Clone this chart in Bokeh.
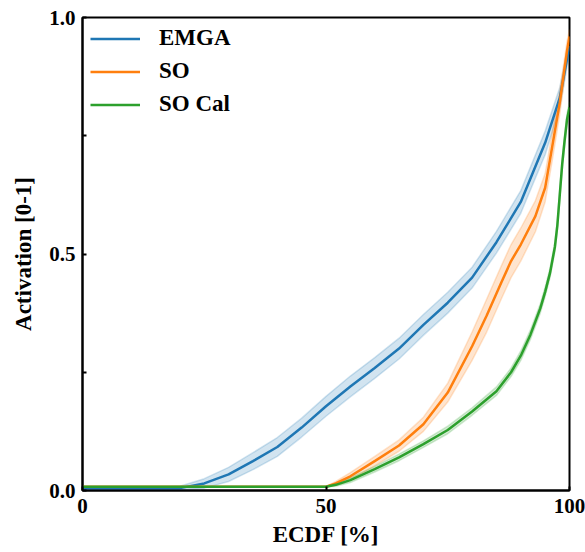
from bokeh.plotting import figure
from bokeh.models import Range1d, FixedTicker, Legend, LegendItem
from bokeh.embed import file_html
from bokeh.resources import INLINE
import numpy as np

# ---- data ----
emga_x = [0, 10, 20, 25, 30, 35, 40, 45, 50, 55, 60, 65, 70, 75, 80, 85, 90, 95, 98, 100]
emga_y = [0.004, 0.004, 0.005, 0.015, 0.034, 0.062, 0.092, 0.133, 0.178, 0.22, 0.259, 0.30, 0.35, 0.397, 0.45, 0.525, 0.61, 0.735, 0.83, 0.94]
emga_sd = [0.0, 0.0, 0.004, 0.01, 0.015, 0.018, 0.02, 0.02, 0.021, 0.022, 0.022, 0.022, 0.022, 0.022, 0.022, 0.023, 0.024, 0.025, 0.022, 0.015]

so_x = [0, 50, 52, 55, 60, 65, 70, 75, 80, 83, 86, 88, 90, 93, 95, 96.5, 98, 99.5, 100]
so_y = [0.008, 0.008, 0.015, 0.03, 0.062, 0.095, 0.14, 0.207, 0.305, 0.37, 0.44, 0.485, 0.52, 0.58, 0.64, 0.73, 0.82, 0.93, 0.96]
so_sd = [0.0, 0.0, 0.004, 0.008, 0.01, 0.012, 0.015, 0.02, 0.03, 0.035, 0.035, 0.035, 0.035, 0.033, 0.03, 0.03, 0.025, 0.02, 0.015]

cal_x = [0, 50, 52, 55, 60, 65, 70, 75, 80, 85, 88, 90, 92, 94, 95, 96, 97, 97.5, 98, 98.5, 99, 99.5, 100]
cal_y = [0.008, 0.008, 0.012, 0.022, 0.045, 0.07, 0.098, 0.128, 0.167, 0.21, 0.25, 0.285, 0.33, 0.385, 0.42, 0.46, 0.515, 0.56, 0.625, 0.69, 0.74, 0.785, 0.81]
cal_sd = [0.0, 0.0, 0.003, 0.005, 0.006, 0.007, 0.007, 0.008, 0.008, 0.009, 0.009, 0.01, 0.01, 0.01, 0.01, 0.01, 0.01, 0.011, 0.012, 0.012, 0.012, 0.012, 0.012]

names = ["EMGA", "SO", "SO Cal"]
colors = ["#1f77b4", "#ff7f0e", "#2ca02c"]

x_ticks = [0, 50, 100]
y_ticks = [0, 0.25, 0.5, 0.75, 1.0]

FONT = "Liberation Serif"

p = figure(width=585, height=552, output_backend="svg", toolbar_location=None,
           x_range=Range1d(0, 100), y_range=Range1d(0, 1),
           min_border_left=82, min_border_right=16, min_border_top=17, min_border_bottom=62)
p.grid.visible = False
p.outline_line_color = "black"
p.outline_line_width = 2
p.outline_line_alpha = 1.0

series = [(emga_x, emga_y, emga_sd), (so_x, so_y, so_sd), (cal_x, cal_y, cal_sd)]
lines = []
for (xs, ys, sd), c in zip(series, colors):
    xs = np.array(xs, dtype=float)
    ys = np.array(ys, dtype=float)
    sd = np.array(sd, dtype=float)
    lo = np.clip(ys - sd, 0, None)
    hi = ys + sd
    p.varea(x=xs, y1=lo, y2=hi, fill_color=c, fill_alpha=0.2)
    p.line(xs, lo, line_color=c, line_alpha=0.2, line_width=1.5, line_join="round")
    p.line(xs, hi, line_color=c, line_alpha=0.2, line_width=1.5, line_join="round")
for (xs, ys, sd), c in zip(series, colors):
    lines.append(p.line(xs, ys, line_color=c, line_width=2.5, line_join="round"))

legend = Legend(items=[LegendItem(label=n, renderers=[r]) for n, r in zip(names, lines)],
                location="top_left")
legend.border_line_color = None
legend.background_fill_alpha = 0
legend.margin = 8
legend.padding = 8
legend.spacing = 7
legend.glyph_width = 50
legend.glyph_height = 25
legend.label_height = 25
legend.label_standoff = 19
legend.label_text_font = FONT
legend.label_text_font_style = "bold"
legend.label_text_font_size = "23px"
legend.label_text_color = "black"
p.add_layout(legend)

for ax in (p.xaxis[0], p.yaxis[0]):
    ax.axis_line_width = 2
    ax.axis_line_color = "black"
    ax.major_tick_in = 4
    ax.major_tick_out = 0
    ax.major_tick_line_width = 2
    ax.minor_tick_line_color = None
    ax.major_label_text_font = FONT
    ax.major_label_text_font_style = "bold"
    ax.major_label_text_font_size = "21px"
    ax.major_label_text_color = "black"
    ax.axis_label_text_font = FONT
    ax.axis_label_text_font_style = "bold"
    ax.axis_label_text_font_size = "23px"
    ax.axis_label_text_color = "black"

p.xaxis.ticker = FixedTicker(ticks=x_ticks)
p.yaxis.ticker = FixedTicker(ticks=y_ticks)
p.yaxis.major_label_overrides = {0: "0.0", 0.25: "", 0.5: "0.5", 0.75: "", 1: "1.0"}
p.xaxis.axis_label = "ECDF [%]"
p.yaxis.axis_label = "Activation [0-1]"
p.xaxis.major_label_standoff = 8
p.yaxis.major_label_standoff = 7
p.xaxis.axis_label_standoff = 6
p.yaxis.axis_label_standoff = 10

open("out.html", "w").write(file_html(p, INLINE))
